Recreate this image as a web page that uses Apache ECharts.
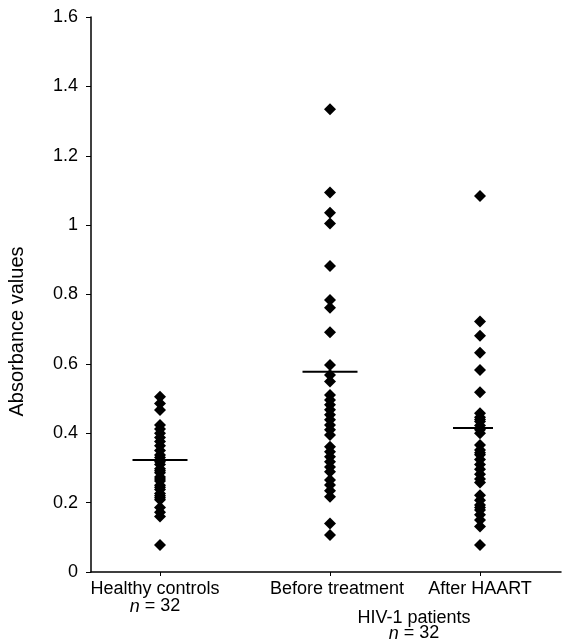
<!DOCTYPE html>
<html>
<head>
<meta charset="utf-8">
<script src="https://cdn.jsdelivr.net/npm/echarts@6/dist/echarts.min.js"></script>
<style>
  html, body { margin: 0; padding: 0; background: #fff; }
  #chart { width: 562px; height: 640px; }
</style>
</head>
<body>
<div id="chart"></div>
<script>
// group positions on the (hidden) x scale, and where their labels sit
var groupNames = ['Healthy controls', 'Before treatment', 'After HAART'];
var groupX = [0.69, 2.39, 3.89];
var labelX = [0.64, 2.46, 3.89];
var patientsX = [3.23];

// absorbance values
var healthy = [0.505, 0.486, 0.467, 0.424, 0.412, 0.400, 0.388, 0.376, 0.364, 0.350,
    0.337, 0.330, 0.323, 0.318, 0.310, 0.298, 0.292, 0.286, 0.274, 0.268, 0.262, 0.250,
    0.244, 0.238, 0.226, 0.220, 0.214, 0.208, 0.186, 0.172, 0.160, 0.078];
var beforeTx = [1.334, 1.094, 1.036, 1.005, 0.882, 0.784, 0.762, 0.691, 0.597, 0.568,
    0.549, 0.510, 0.496, 0.482, 0.468, 0.453, 0.439, 0.424, 0.410, 0.395, 0.361, 0.347,
    0.332, 0.318, 0.303, 0.289, 0.265, 0.251, 0.234, 0.217, 0.140, 0.107];
var afterHaart = [1.084, 0.722, 0.681, 0.632, 0.582, 0.518, 0.458, 0.446, 0.440, 0.434,
    0.422, 0.410, 0.400, 0.366, 0.352, 0.344, 0.338, 0.324, 0.310, 0.296, 0.282, 0.268,
    0.258, 0.221, 0.207, 0.193, 0.186, 0.179, 0.165, 0.150, 0.131, 0.078];
var means = [0.323, 0.577, 0.415];

var groups = [healthy, beforeTx, afterHaart];

var chart = echarts.init(document.getElementById('chart'));

var pts = [];
groups.forEach(function (vals, g) {
    vals.forEach(function (v) { pts.push([groupX[g], v]); });
});
var meanPts = means.map(function (m, g) { return [groupX[g], m]; });
var meanW = [55, 55, 40];

function xLabel(val) {
    var i = 0;
    for (var k = 0; k < labelX.length; k++) {
        if (Math.abs(labelX[k] - val) < 1e-6) i = k;
    }
    if (i === 0) return '{t|' + groupNames[0] + '}\n{i|n}{t| = 32}';
    return '{t|' + groupNames[i] + '}';
}

var font = '"Liberation Sans", Arial, Helvetica, sans-serif';
var rich = {
    t: { fontFamily: font, fontSize: 18, color: '#000', lineHeight: 17 },
    i: { fontFamily: font, fontSize: 18, color: '#000', lineHeight: 17, fontStyle: 'italic' }
};
var rich2 = {
    t: { fontFamily: font, fontSize: 18, color: '#000', lineHeight: 15 },
    i: { fontFamily: font, fontSize: 18, color: '#000', lineHeight: 15, fontStyle: 'italic' }
};

option = {
    backgroundColor: '#fff',
    animation: false,
    grid: { left: 91, right: 1, top: 17, bottom: 68, containLabel: false, outerBoundsMode: 'none' },
    xAxis: [
        {
            type: 'value',
            min: 0,
            max: 4.7,
            splitLine: { show: false },
            axisLine: { lineStyle: { color: '#000', width: 1.5 } },
            axisTick: { customValues: groupX, length: 4, lineStyle: { color: '#000' } },
            axisLabel: { customValues: labelX, margin: 9, formatter: xLabel, rich: rich }
        },
        {
            type: 'value',
            position: 'bottom',
            min: 0,
            max: 4.7,
            splitLine: { show: false },
            axisLine: { show: false },
            axisTick: { show: false },
            axisLabel: {
                customValues: patientsX,
                margin: 39,
                lineHeight: 15,
                formatter: function () { return '{t|HIV-1 patients}\n{i|n}{t| = 32}'; },
                rich: rich2
            }
        }
    ],
    yAxis: {
        type: 'value',
        min: 0,
        max: 1.6,
        interval: 0.2,
        name: 'Absorbance values',
        nameLocation: 'middle',
        nameRotate: 90,
        nameGap: 64,
        nameTextStyle: { fontFamily: font, fontSize: 20, color: '#000', padding: [0, 74, 0, 0] },
        splitLine: { show: false },
        axisLine: { lineStyle: { color: '#000', width: 1.5 } },
        axisTick: { length: 5, lineStyle: { color: '#000' } },
        axisLabel: { fontFamily: font, fontSize: 18, color: '#000', margin: 13 }
    },
    series: [
        {
            type: 'scatter',
            symbol: 'diamond',
            symbolSize: 12,
            itemStyle: { color: '#000', opacity: 1 },
            data: pts
        },
        {
            type: 'scatter',
            symbol: 'rect',
            symbolSize: function (v, p) { return [meanW[p.dataIndex], 2]; },
            symbolOffset: function (v, p) { return [p.dataIndex === 2 ? -7 : 0, 0]; },
            itemStyle: { color: '#000', opacity: 1 },
            z: 3,
            data: meanPts
        }
    ]
};

chart.setOption(option);
</script>
</body>
</html>
